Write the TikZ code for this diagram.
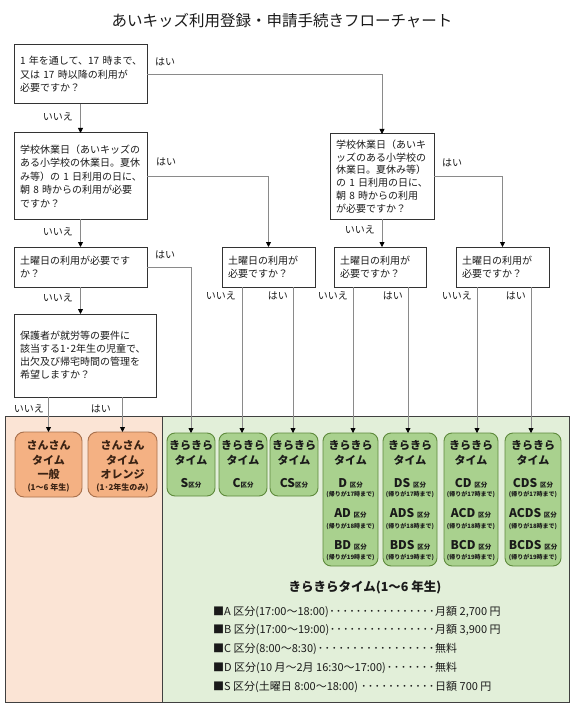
\documentclass[tikz,border=0pt]{standalone}
\usepackage{fontspec}
\setmainfont{Noto Sans CJK JP}
\usetikzlibrary{arrows.meta,calc}
\definecolor{lgray}{HTML}{8A8A8A}
\definecolor{boxln}{HTML}{333333}
\definecolor{orpanel}{HTML}{FBE4D5}
\definecolor{grpanel}{HTML}{E2EFD9}
\definecolor{orbox}{HTML}{F4B183}
\definecolor{orline}{HTML}{A8704C}
\definecolor{grbox}{HTML}{A9D18E}
\definecolor{grline}{HTML}{5E8A3C}
\definecolor{panelln}{HTML}{404040}
\definecolor{txt}{HTML}{1A1A1A}
\definecolor{otxt}{HTML}{3B2314}
\newcommand\kb[1]{{\fontsize{6.5}{7}\selectfont #1}}
\newcommand\legdots{\xleaders\hbox to 6.6pt{\hss ･\hss}\hfill}
\begin{document}
\begin{tikzpicture}[x=1pt,y=-1pt,
  qbox/.style={draw=boxln, line width=1pt, fill=white, rectangle, anchor=north west, outer sep=0pt, inner xsep=6pt, inner ysep=0pt, align=left, text=txt, font=\fontsize{10}{13.5}\selectfont},
  conn/.style={draw=lgray, line width=0.8pt, -{Triangle[length=5pt,width=5pt,color=black]}},
  lab/.style={font=\fontsize{10}{12}\selectfont, text=txt, inner sep=0pt},
  panel/.style={draw=panelln, line width=1pt, anchor=north west, outer sep=0pt, inner sep=0pt, minimum height=286pt},
  gbox/.style={draw=grline, line width=0.9pt, fill=grbox, rounded corners=8pt, anchor=north west, outer sep=0pt, inner sep=0pt},
  obox/.style={draw=orline, line width=0.9pt, fill=orbox, rounded corners=9pt, anchor=north west, outer sep=0pt, inner sep=0pt, minimum height=65pt},
  gt/.style={font=\fontsize{11}{11}\selectfont\bfseries, text=txt, inner sep=0pt},
  gcode/.style={font=\fontsize{12}{12}\selectfont\bfseries, text=txt, inner sep=0pt},
  gsub/.style={font=\fontsize{6}{6}\selectfont\bfseries, text=txt, inner sep=0pt},
  ot/.style={font=\fontsize{11}{11}\selectfont\bfseries, text=otxt, inner sep=0pt},
  osub/.style={font=\fontsize{8}{8}\selectfont\bfseries, text=otxt, inner sep=0pt},
  leg/.style={font=\fontsize{11}{12}\selectfont, text=txt, inner sep=0pt, anchor=west}
]
\useasboundingbox (0,0) rectangle (575,714);
\fill[white] (0,0) rectangle (575,714);

\node[font=\fontsize{15.5}{16}\selectfont, text=txt] (title) at (282,21) {あいキッズ利用登録・申請手続きフローチャート};

% panels
\node[panel, fill=orpanel, minimum width=157pt] (opanel) at (5,416) {};
\node[panel, fill=grpanel, minimum width=407pt] (gpanel) at (162,416) {};

% decision boxes
\node[qbox, minimum width=133pt, minimum height=59pt, text width=121pt] (b1) at (14,45)
  {1~年を通して、17~時まで、\\又は~17~時以降の利用が\\必要ですか？};
\node[qbox, minimum width=133pt, minimum height=86pt, text width=121pt] (b2) at (14,133)
  {学校休業日（あいキッズの\\ある小学校の休業日。夏休\\み等）の~1~日利用の日に、\\朝~8~時からの利用が必要\\ですか？};
\node[qbox, minimum width=104pt, minimum height=85pt, text width=92pt, font=\fontsize{10}{12.8}\selectfont] (b3) at (330,134)
  {学校休業日（あいキ\\ッズのある小学校の\\休業日。夏休み等）\\の~1~日利用の日に、\\朝~8~時からの利用\\が必要ですか？};
\node[qbox, minimum width=133pt, minimum height=40pt, text width=121pt] (sat1) at (14,247)
  {土曜日の利用が必要です\\か？};
\node[qbox, minimum width=93pt, minimum height=40pt, text width=81pt] (sat2) at (222,247)
  {土曜日の利用が\\必要ですか？};
\node[qbox, minimum width=92pt, minimum height=40pt, text width=80pt] (sat3) at (334,247)
  {土曜日の利用が\\必要ですか？};
\node[qbox, minimum width=93pt, minimum height=40pt, text width=81pt] (sat4) at (456,247)
  {土曜日の利用が\\必要ですか？};
\node[qbox, minimum width=142pt, minimum height=83pt, text width=130pt, font=\fontsize{10}{13}\selectfont] (prot) at (14,314)
  {保護者が就労等の要件に\\該当する1･2年生の児童で、\\出欠及び帰宅時間の管理を\\希望しますか？};

% orange boxes
\node[obox, minimum width=67pt] (og1) at (15,432) {};
\node[obox, minimum width=69pt] (og2) at (88,432) {};
\node[ot] (og1a) at (48.5,445) {さんさん};
\node[ot] (og1b) at (48.5,460) {タイム};
\node[ot] (og1c) at (48.5,474) {一般};
\node[osub] (og1d) at (48.5,488) {(1～6 年生)};
\node[ot] (og2a) at (122.5,445) {さんさん};
\node[ot] (og2b) at (122.5,460) {タイム};
\node[ot] (og2c) at (122.5,474) {オレンジ};
\node[osub] (og2d) at (122.5,488) {(1･2年生のみ)};

% small green boxes
\foreach \nm/\xa/\xb/\cd in {gS/167/215/S, gC/219/267/C, gCS/270/318/CS}{
  \pgfmathsetmacro\gcx{(\xa+\xb)/2}
  \pgfmathsetmacro\gw{\xb-\xa}
  \node[gbox, minimum width=\gw pt, minimum height=63pt] (\nm) at (\xa,433) {};
  \node[gt] (\nm-1) at (\gcx,445) {きらきら};
  \node[gt] (\nm-2) at (\gcx,460) {タイム};
  \node[gcode] (\nm-a) at (\gcx,483) {\cd\kb{区分}};
}
% tall green boxes
\foreach \nm/\xa/\xb/\la/\lb/\lc in {gD/323/378/D/AD/BD, gDS/383/437/DS/ADS/BDS, gCD/444/498/CD/ACD/BCD, gCDS/505/561/CDS/ACDS/BCDS}{
  \pgfmathsetmacro\gcx{(\xa+\xb)/2}
  \pgfmathsetmacro\gw{\xb-\xa}
  \node[gbox, minimum width=\gw pt, minimum height=133pt] (\nm) at (\xa,433) {};
  \node[gt] (\nm-1) at (\gcx,445) {きらきら};
  \node[gt] (\nm-2) at (\gcx,460) {タイム};
  \node[gcode] (\nm-a) at (\gcx,483) {\la\ \kb{区分}};
  \node[gsub] (\nm-as) at (\gcx,494) {(帰りが17時まで)};
  \node[gcode] (\nm-b) at (\gcx,513) {\lb\ \kb{区分}};
  \node[gsub] (\nm-bs) at (\gcx,526) {(帰りが18時まで)};
  \node[gcode] (\nm-c) at (\gcx,545) {\lc\ \kb{区分}};
  \node[gsub] (\nm-cs) at (\gcx,557) {(帰りが19時まで)};
}

% connectors
\draw[conn] (b1.east) -| (b3.north);
\draw[conn] (b1.south) -- (b2.north);
\draw[conn] (b2.east) -| (sat2.north);
\draw[conn] (b2.south) -- (sat1.north);
\draw[conn] (b3.east) -| (sat4.north);
\draw[conn] (b3.south) -- (b3.south |- sat3.north);
\draw[conn] (sat1.east) -| (gS.north);
\draw[conn] (sat1.south) -- (sat1.south |- prot.north);
\draw[conn] (prot.south -| og1.north) -- (og1.north);
\draw[conn] (prot.south -| og2.north) -- (og2.north);
\coordinate (l2a) at (242,287);
\coordinate (l2b) at (293,287);
\coordinate (l3a) at (353,287);
\coordinate (l3b) at (408,287);
\coordinate (l4a) at (477,287);
\coordinate (l4b) at (531,287);
\draw[conn] (l2a) -- (l2a |- gC.north);
\draw[conn] (l2b) -- (l2b |- gCS.north);
\draw[conn] (l3a) -- (l3a |- gD.north);
\draw[conn] (l3b) -- (l3b |- gDS.north);
\draw[conn] (l4a) -- (l4a |- gCD.north);
\draw[conn] (l4b) -- (l4b |- gCDS.north);

% labels
\node[lab, anchor=west] (y1) at (155,62) {はい};
\node[lab, anchor=east] (n1) at (73,117) {いいえ};
\node[lab, anchor=west] (y2) at (156,162) {はい};
\node[lab, anchor=east] (n2) at (73,232) {いいえ};
\node[lab, anchor=west] (y3) at (442,163) {はい};
\node[lab, anchor=east] (n3) at (375,230) {いいえ};
\node[lab, anchor=west] (y4) at (155,255) {はい};
\node[lab, anchor=east] (n4) at (73,298) {いいえ};
\node[lab, anchor=east] (n5) at (236,296) {いいえ};
\node[lab, anchor=east] (y5) at (288,296) {はい};
\node[lab, anchor=east] (n6) at (348,296) {いいえ};
\node[lab, anchor=east] (y6) at (403,296) {はい};
\node[lab, anchor=east] (n7) at (472,296) {いいえ};
\node[lab, anchor=east] (y7) at (526,296) {はい};
\node[lab, anchor=east] (n8) at (44,409) {いいえ};
\node[lab, anchor=east] (y8) at (111,409) {はい};

% legend
\node[font=\fontsize{12.5}{13}\selectfont\bfseries, text=txt] (legt) at (365,587) {きらきらタイム(1～6 年生)};
\node[leg] (leg1) at (213,612) {\hbox to 222pt{■A 区分(17:00～18:00)\legdots}月額 2,700 円};
\node[leg] (leg2) at (213,630) {\hbox to 222pt{■B 区分(17:00～19:00)\legdots}月額 3,900 円};
\node[leg] (leg3) at (213,649) {\hbox to 222pt{■C 区分(8:00～8:30)\legdots}無料};
\node[leg] (leg4) at (213,668) {\hbox to 222pt{■D 区分(10 月～2月 16:30～17:00)\legdots}無料};
\node[leg] (leg5) at (213,687) {\hbox to 222pt{■S 区分(土曜日 8:00～18:00) \legdots}日額 700 円};
\end{tikzpicture}
\end{document}
